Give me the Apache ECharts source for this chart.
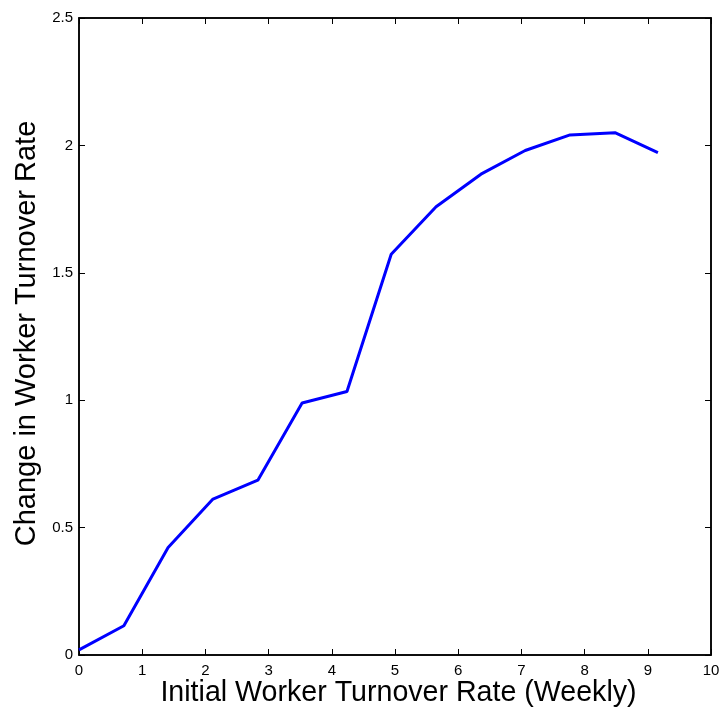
<!DOCTYPE html>
<html lang="en">
<head>
    <meta charset="UTF-8">
    <script src="https://cdn.jsdelivr.net/npm/echarts@6/dist/echarts.min.js"></script>
    <title>Worker Turnover</title>
    <style>
        html, body { margin: 0; padding: 0; background: #fff; }
    </style>
</head>
<body>
<div id="main" style="width: 719px;height:708px;"></div>
<script type="text/javascript">
    // values
    var turnoverRate = [0, 0.71, 1.41, 2.12, 2.83, 3.53, 4.24, 4.94, 5.65, 6.36, 7.06, 7.77, 8.48, 9.16];
    var turnoverChange = [0.02, 0.115, 0.422, 0.612, 0.686, 0.989, 1.034, 1.573, 1.759, 1.887, 1.980, 2.041, 2.050, 1.972];
    var xTicks = [0, 1, 2, 3, 4, 5, 6, 7, 8, 9, 10];
    var yTicks = [0, 0.5, 1, 1.5, 2, 2.5];

    var seriesData = [];
    for (var i = 0; i < turnoverRate.length; i++) {
        seriesData.push([turnoverRate[i], turnoverChange[i]]);
    }

    var font = 'Liberation Sans, Arial, Helvetica, sans-serif';
    var myChart = echarts.init(document.getElementById('main'));

    var tickStyle = { show: true, inside: true, length: 6, lineStyle: { color: '#000', width: 1 } };
    var lineStyle = { show: true, onZero: false, lineStyle: { color: '#000', width: 1.5 } };

    var option = {
        backgroundColor: '#fff',
        animation: false,
        grid: { left: 79, right: 8, top: 18, bottom: 53, containLabel: false, outerBoundsMode: 'none',
                show: true, borderColor: '#000', borderWidth: 1.5, backgroundColor: 'transparent' },
        xAxis: [
            {
                type: 'value',
                min: xTicks[0],
                max: xTicks[xTicks.length - 1],
                interval: 1,
                position: 'bottom',
                name: 'Initial Worker Turnover Rate (Weekly)',
                nameLocation: 'middle',
                nameGap: 24,
                nameMoveOverlap: false,
                nameTextStyle: { fontFamily: font, fontSize: 28.6, color: '#000', padding: [0, 0, 0, 7] },
                axisLine: lineStyle,
                axisTick: tickStyle,
                axisLabel: { fontFamily: font, fontSize: 15, color: '#000', margin: 8 },
                splitLine: { show: false }
            },
            {
                type: 'value',
                min: xTicks[0],
                max: xTicks[xTicks.length - 1],
                interval: 1,
                position: 'top',
                axisLine: lineStyle,
                axisTick: tickStyle,
                axisLabel: { show: false },
                splitLine: { show: false }
            }
        ],
        yAxis: [
            {
                type: 'value',
                min: yTicks[0],
                max: yTicks[yTicks.length - 1],
                interval: 0.5,
                position: 'left',
                name: 'Change in Worker Turnover Rate',
                nameLocation: 'middle',
                nameGap: 38,
                nameMoveOverlap: false,
                nameTextStyle: { fontFamily: font, fontSize: 29, color: '#000', padding: [0, 0, 0, 6] },
                axisLine: lineStyle,
                axisTick: tickStyle,
                axisLabel: { fontFamily: font, fontSize: 15, color: '#000', margin: 6 },
                splitLine: { show: false }
            },
            {
                type: 'value',
                min: yTicks[0],
                max: yTicks[yTicks.length - 1],
                interval: 0.5,
                position: 'right',
                axisLine: lineStyle,
                axisTick: tickStyle,
                axisLabel: { show: false },
                splitLine: { show: false }
            }
        ],
        series: [
            {
                type: 'line',
                data: seriesData,
                showSymbol: false,
                symbol: 'none',
                lineStyle: { color: '#0000ff', width: 3 },
                itemStyle: { color: '#0000ff' }
            },
            {
                // empty series so the top and right axes are drawn with ticks
                type: 'line',
                xAxisIndex: 1,
                yAxisIndex: 1,
                data: [],
                symbol: 'none'
            }
        ]
    };

    myChart.setOption(option);
</script>
</body>
</html>
